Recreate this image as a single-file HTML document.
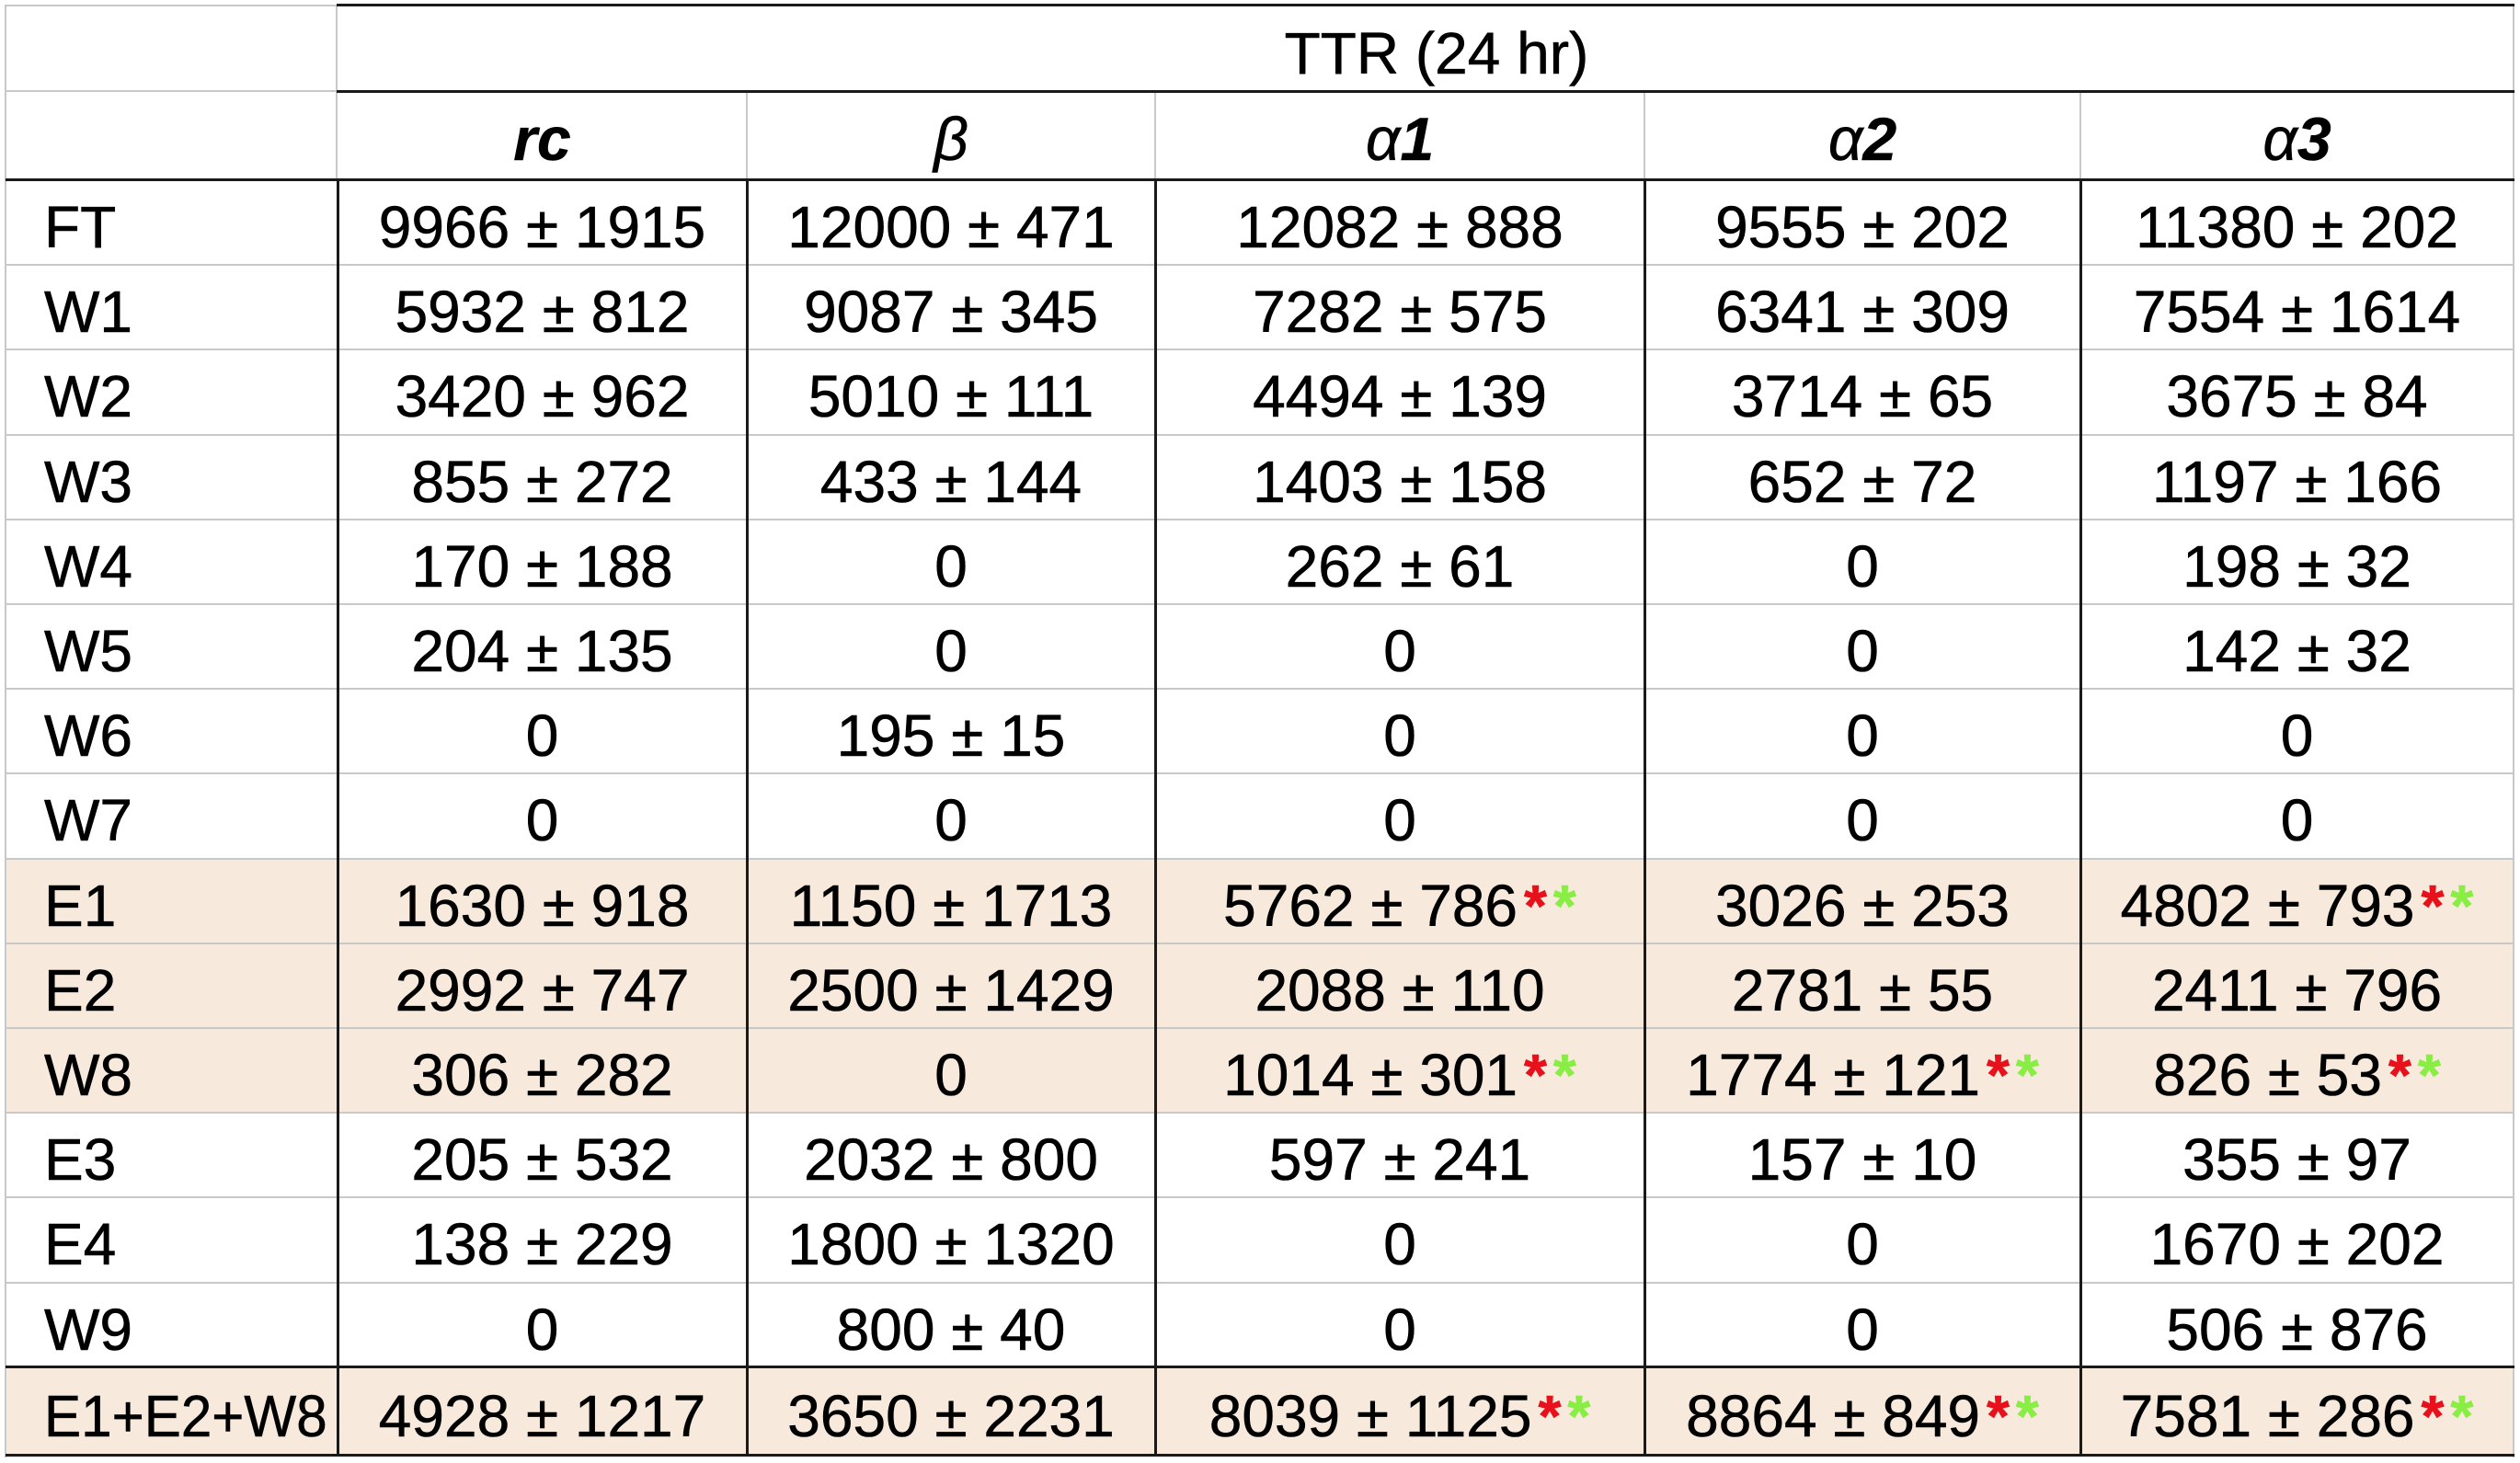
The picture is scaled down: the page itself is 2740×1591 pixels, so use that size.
<!DOCTYPE html>
<html>
<head>
<meta charset="utf-8">
<style>
html,body{margin:0;padding:0;background:#fff;}
#w{position:relative;width:2740px;height:1591px;overflow:hidden;background:#fff;font-family:"Liberation Sans",Arial,sans-serif;color:#000;}
.bg{position:absolute;left:7px;width:2726px;background:#f7e9dc;}
.h{position:absolute;height:2px;}
.v{position:absolute;width:2px;}
.g{background:#c8c8c8;}
.d{background:#1a1a1a;}
.t{position:absolute;font-size:64px;white-space:nowrap;text-align:center;-webkit-text-stroke:0.6px #000;}
.lab{position:absolute;left:48px;font-size:64px;white-space:nowrap;-webkit-text-stroke:0.6px #000;}
.c1{left:367px;width:445px;}
.c2{left:812px;width:444px;}
.c3{left:1256px;width:532px;}
.c4{left:1788px;width:474px;}
.c5{left:2262px;width:471px;}
.r{color:#e8101a;font-weight:bold;margin-left:7px;-webkit-text-stroke:0.6px #e8101a;}
.gr{color:#88ee44;font-weight:bold;margin-left:7px;-webkit-text-stroke:0.6px #88ee44;}
.hd{position:absolute;top:103px;height:97px;line-height:97px;font-size:66px;text-align:center;white-space:nowrap;-webkit-text-stroke:0.5px #000;}
.hd i{font-style:italic;}
.hd b{font-weight:bold;font-style:italic;}
</style>
</head>
<body>
<div id="w">
<!-- shaded rows -->
<div class="bg" style="top:934px;height:276px;"></div>
<div class="bg" style="top:1487px;height:97px;"></div>

<!-- gray horizontal body lines -->
<div class="h g" style="left:6px;width:2728px;top:287px;"></div>
<div class="h g" style="left:6px;width:2728px;top:379px;"></div>
<div class="h g" style="left:6px;width:2728px;top:472px;"></div>
<div class="h g" style="left:6px;width:2728px;top:564px;"></div>
<div class="h g" style="left:6px;width:2728px;top:656px;"></div>
<div class="h g" style="left:6px;width:2728px;top:748px;"></div>
<div class="h g" style="left:6px;width:2728px;top:840px;"></div>
<div class="h g" style="left:6px;width:2728px;top:933px;"></div>
<div class="h g" style="left:6px;width:2728px;top:1025px;"></div>
<div class="h g" style="left:6px;width:2728px;top:1117px;"></div>
<div class="h g" style="left:6px;width:2728px;top:1209px;"></div>
<div class="h g" style="left:6px;width:2728px;top:1301px;"></div>
<div class="h g" style="left:6px;width:2728px;top:1394px;"></div>

<!-- header gray lines -->
<div class="h g" style="left:5px;width:362px;top:5px;"></div>
<div class="h g" style="left:5px;width:362px;top:98px;"></div>
<div class="v g" style="left:5px;top:5px;height:1580px;"></div>
<div class="v g" style="left:365px;top:5px;height:191px;"></div>
<div class="v g" style="left:811px;top:99px;height:97px;"></div>
<div class="v g" style="left:1255px;top:99px;height:97px;"></div>
<div class="v g" style="left:1787px;top:99px;height:97px;"></div>
<div class="v g" style="left:2261px;top:99px;height:97px;"></div>
<div class="v g" style="left:2732px;top:5px;height:1580px;"></div>

<!-- dark lines -->
<div class="h d" style="left:366px;width:2368px;top:4px;height:3px;"></div>
<div class="h d" style="left:366px;width:2368px;top:98px;height:3px;"></div>
<div class="h d" style="left:6px;width:2728px;top:194px;height:3px;"></div>
<div class="h d" style="left:6px;width:2728px;top:1485px;height:3px;"></div>
<div class="h d" style="left:6px;width:2728px;top:1581px;height:3px;"></div>
<div class="v d" style="left:366px;top:195px;height:1388px;width:3px;"></div>
<div class="v d" style="left:811px;top:195px;height:1388px;width:3px;"></div>
<div class="v d" style="left:1255px;top:195px;height:1388px;width:3px;"></div>
<div class="v d" style="left:1787px;top:195px;height:1388px;width:3px;"></div>
<div class="v d" style="left:2261px;top:195px;height:1388px;width:3px;"></div>

<!-- header -->
<div class="t" style="left:391px;width:2342px;top:11px;height:94px;line-height:94px;">TTR (24 hr)</div>
<div class="hd c1"><b>rc</b></div>
<div class="hd c2"><i>β</i></div>
<div class="hd c3"><i>α</i><b>1</b></div>
<div class="hd c4"><i>α</i><b>2</b></div>
<div class="hd c5"><i>α</i><b>3</b></div>

<!-- FT -->
<div class="lab" style="top:201px;line-height:92px;">FT</div>
<div class="t c1" style="top:201px;line-height:92px;">9966 ± 1915</div>
<div class="t c2" style="top:201px;line-height:92px;">12000 ± 471</div>
<div class="t c3" style="top:201px;line-height:92px;">12082 ± 888</div>
<div class="t c4" style="top:201px;line-height:92px;">9555 ± 202</div>
<div class="t c5" style="top:201px;line-height:92px;">11380 ± 202</div>

<!-- W1 -->
<div class="lab" style="top:293px;line-height:92px;">W1</div>
<div class="t c1" style="top:293px;line-height:92px;">5932 ± 812</div>
<div class="t c2" style="top:293px;line-height:92px;">9087 ± 345</div>
<div class="t c3" style="top:293px;line-height:92px;">7282 ± 575</div>
<div class="t c4" style="top:293px;line-height:92px;">6341 ± 309</div>
<div class="t c5" style="top:293px;line-height:92px;">7554 ± 1614</div>

<!-- W2 -->
<div class="lab" style="top:385px;line-height:92px;">W2</div>
<div class="t c1" style="top:385px;line-height:92px;">3420 ± 962</div>
<div class="t c2" style="top:385px;line-height:92px;">5010 ± 111</div>
<div class="t c3" style="top:385px;line-height:92px;">4494 ± 139</div>
<div class="t c4" style="top:385px;line-height:92px;">3714 ± 65</div>
<div class="t c5" style="top:385px;line-height:92px;">3675 ± 84</div>

<!-- W3 -->
<div class="lab" style="top:478px;line-height:92px;">W3</div>
<div class="t c1" style="top:478px;line-height:92px;">855 ± 272</div>
<div class="t c2" style="top:478px;line-height:92px;">433 ± 144</div>
<div class="t c3" style="top:478px;line-height:92px;">1403 ± 158</div>
<div class="t c4" style="top:478px;line-height:92px;">652 ± 72</div>
<div class="t c5" style="top:478px;line-height:92px;">1197 ± 166</div>

<!-- W4 -->
<div class="lab" style="top:570px;line-height:92px;">W4</div>
<div class="t c1" style="top:570px;line-height:92px;">170 ± 188</div>
<div class="t c2" style="top:570px;line-height:92px;">0</div>
<div class="t c3" style="top:570px;line-height:92px;">262 ± 61</div>
<div class="t c4" style="top:570px;line-height:92px;">0</div>
<div class="t c5" style="top:570px;line-height:92px;">198 ± 32</div>

<!-- W5 -->
<div class="lab" style="top:662px;line-height:92px;">W5</div>
<div class="t c1" style="top:662px;line-height:92px;">204 ± 135</div>
<div class="t c2" style="top:662px;line-height:92px;">0</div>
<div class="t c3" style="top:662px;line-height:92px;">0</div>
<div class="t c4" style="top:662px;line-height:92px;">0</div>
<div class="t c5" style="top:662px;line-height:92px;">142 ± 32</div>

<!-- W6 -->
<div class="lab" style="top:754px;line-height:92px;">W6</div>
<div class="t c1" style="top:754px;line-height:92px;">0</div>
<div class="t c2" style="top:754px;line-height:92px;">195 ± 15</div>
<div class="t c3" style="top:754px;line-height:92px;">0</div>
<div class="t c4" style="top:754px;line-height:92px;">0</div>
<div class="t c5" style="top:754px;line-height:92px;">0</div>

<!-- W7 -->
<div class="lab" style="top:846px;line-height:92px;">W7</div>
<div class="t c1" style="top:846px;line-height:92px;">0</div>
<div class="t c2" style="top:846px;line-height:92px;">0</div>
<div class="t c3" style="top:846px;line-height:92px;">0</div>
<div class="t c4" style="top:846px;line-height:92px;">0</div>
<div class="t c5" style="top:846px;line-height:92px;">0</div>

<!-- E1 -->
<div class="lab" style="top:939px;line-height:92px;">E1</div>
<div class="t c1" style="top:939px;line-height:92px;">1630 ± 918</div>
<div class="t c2" style="top:939px;line-height:92px;">1150 ± 1713</div>
<div class="t c3" style="top:939px;line-height:92px;">5762 ± 786<span class="r">*</span><span class="gr">*</span></div>
<div class="t c4" style="top:939px;line-height:92px;">3026 ± 253</div>
<div class="t c5" style="top:939px;line-height:92px;">4802 ± 793<span class="r">*</span><span class="gr">*</span></div>

<!-- E2 -->
<div class="lab" style="top:1031px;line-height:92px;">E2</div>
<div class="t c1" style="top:1031px;line-height:92px;">2992 ± 747</div>
<div class="t c2" style="top:1031px;line-height:92px;">2500 ± 1429</div>
<div class="t c3" style="top:1031px;line-height:92px;">2088 ± 110</div>
<div class="t c4" style="top:1031px;line-height:92px;">2781 ± 55</div>
<div class="t c5" style="top:1031px;line-height:92px;">2411 ± 796</div>

<!-- W8 -->
<div class="lab" style="top:1123px;line-height:92px;">W8</div>
<div class="t c1" style="top:1123px;line-height:92px;">306 ± 282</div>
<div class="t c2" style="top:1123px;line-height:92px;">0</div>
<div class="t c3" style="top:1123px;line-height:92px;">1014 ± 301<span class="r">*</span><span class="gr">*</span></div>
<div class="t c4" style="top:1123px;line-height:92px;">1774 ± 121<span class="r">*</span><span class="gr">*</span></div>
<div class="t c5" style="top:1123px;line-height:92px;">826 ± 53<span class="r">*</span><span class="gr">*</span></div>

<!-- E3 -->
<div class="lab" style="top:1215px;line-height:92px;">E3</div>
<div class="t c1" style="top:1215px;line-height:92px;">205 ± 532</div>
<div class="t c2" style="top:1215px;line-height:92px;">2032 ± 800</div>
<div class="t c3" style="top:1215px;line-height:92px;">597 ± 241</div>
<div class="t c4" style="top:1215px;line-height:92px;">157 ± 10</div>
<div class="t c5" style="top:1215px;line-height:92px;">355 ± 97</div>

<!-- E4 -->
<div class="lab" style="top:1307px;line-height:92px;">E4</div>
<div class="t c1" style="top:1307px;line-height:92px;">138 ± 229</div>
<div class="t c2" style="top:1307px;line-height:92px;">1800 ± 1320</div>
<div class="t c3" style="top:1307px;line-height:92px;">0</div>
<div class="t c4" style="top:1307px;line-height:92px;">0</div>
<div class="t c5" style="top:1307px;line-height:92px;">1670 ± 202</div>

<!-- W9 -->
<div class="lab" style="top:1400px;line-height:92px;">W9</div>
<div class="t c1" style="top:1400px;line-height:92px;">0</div>
<div class="t c2" style="top:1400px;line-height:92px;">800 ± 40</div>
<div class="t c3" style="top:1400px;line-height:92px;">0</div>
<div class="t c4" style="top:1400px;line-height:92px;">0</div>
<div class="t c5" style="top:1400px;line-height:92px;">506 ± 876</div>

<!-- E1+E2+W8 -->
<div class="lab" style="top:1492px;line-height:97px;transform:scaleX(0.94);transform-origin:0 0;">E1+E2+W8</div>
<div class="t c1" style="top:1492px;line-height:97px;">4928 ± 1217</div>
<div class="t c2" style="top:1492px;line-height:97px;">3650 ± 2231</div>
<div class="t c3" style="top:1492px;line-height:97px;">8039 ± 1125<span class="r">*</span><span class="gr">*</span></div>
<div class="t c4" style="top:1492px;line-height:97px;">8864 ± 849<span class="r">*</span><span class="gr">*</span></div>
<div class="t c5" style="top:1492px;line-height:97px;">7581 ± 286<span class="r">*</span><span class="gr">*</span></div>
</div>
</body>
</html>
